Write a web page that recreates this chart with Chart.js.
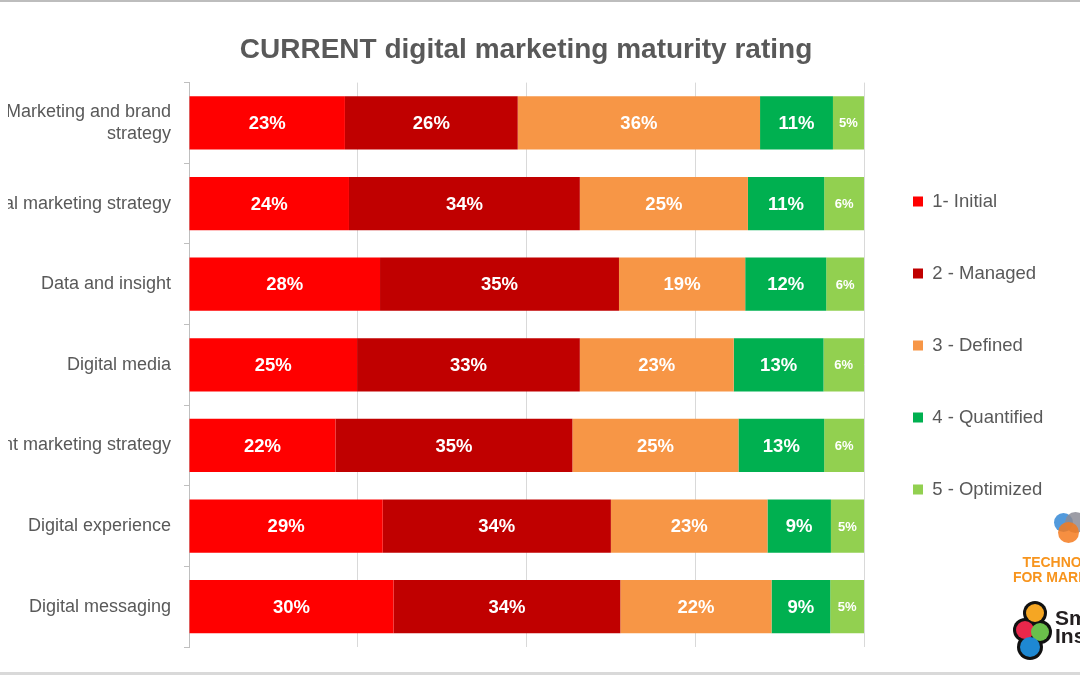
<!DOCTYPE html>
<html>
<head>
<meta charset="utf-8">
<script src="https://cdn.jsdelivr.net/npm/chart.js@4.4.1/dist/chart.umd.min.js"></script>
<style>
  html, body { margin: 0; padding: 0; background: #fff; }
  body { width: 1080px; height: 675px; overflow: hidden; position: relative; font-family: "Liberation Sans", Arial, sans-serif; }
  #wrap { position: absolute; left: -60px; top: 0; width: 1172px; height: 675px; }
  .topline { position: absolute; left: 0; top: 0; width: 1080px; height: 2px; background: #bdbdbd; }
  .bottomline { position: absolute; left: 0; top: 672px; width: 1080px; height: 3px; background: #d9d9d9; }
  .dot { position: absolute; border-radius: 50%; }
  .tfm-text { position: absolute; left: 1002px; top: 555px; width: 140px; text-align: center; color: #f7941d; font-weight: bold; font-size: 14px; line-height: 15px; }
  .si-text { position: absolute; left: 1055px; top: 609px; color: #231f20; font-weight: bold; font-size: 21px; line-height: 18px; }
</style>
</head>
<body>
<div id="wrap"><canvas id="myGraph"></canvas></div>
<div class="topline"></div>
<div class="bottomline"></div>

<!-- logos, bottom right -->
<div class="dot" style="left:1054px;top:513px;width:19px;height:19px;background:#3f8fd8;opacity:0.9"></div>
<div class="dot" style="left:1065px;top:512px;width:21px;height:21px;background:#8c8c96;opacity:0.85"></div>
<div class="dot" style="left:1058px;top:522px;width:21px;height:21px;background:#f47b20;opacity:0.85"></div>
<div class="tfm-text">TECHNOLOGY<br>FOR MARKETING</div>

<div class="dot" style="left:1023px;top:601px;width:24px;height:24px;background:#111"></div>
<div class="dot" style="left:1013px;top:618px;width:24px;height:24px;background:#111"></div>
<div class="dot" style="left:1028px;top:620px;width:24px;height:24px;background:#111"></div>
<div class="dot" style="left:1017px;top:634px;width:26px;height:26px;background:#111"></div>
<div class="dot" style="left:1026px;top:604px;width:18px;height:18px;background:#f5a623"></div>
<div class="dot" style="left:1016px;top:621px;width:18px;height:18px;background:#e8274b"></div>
<div class="dot" style="left:1031px;top:623px;width:18px;height:18px;background:#6abf4b"></div>
<div class="dot" style="left:1020px;top:637px;width:20px;height:20px;background:#1e88d3"></div>
<div class="si-text">Smart<br>Insights</div>

<script>
var categories = [['Marketing and brand', 'strategy'], 'Digital marketing strategy', 'Data and insight',
    'Digital media', 'Content marketing strategy', 'Digital experience', 'Digital messaging'];
var seriesNames = ['1- Initial', '2 - Managed', '3 - Defined', '4 - Quantified', '5 - Optimized'];
var seriesColors = ['#ff0000', '#c00000', '#f79646', '#00b050', '#92d050'];

// shares in % (labels are these rounded)
var initial    = [23.1, 23.7, 28.3, 24.9, 21.7, 28.7, 30.3];
var managed    = [25.6, 34.2, 35.4, 33.0, 35.1, 33.8, 33.6];
var defined    = [35.9, 24.9, 18.7, 22.8, 24.6, 23.2, 22.4];
var quantified = [10.8, 11.3, 12.0, 13.3, 12.7, 9.4, 8.7];
var optimized  = [4.6, 5.9, 5.6, 6.0, 5.9, 4.9, 5.0];

var seriesValues = [initial, managed, defined, quantified, optimized];

var fontFamily = '"Liberation Sans", Arial, Helvetica, sans-serif';
Chart.defaults.font.family = fontFamily;
Chart.defaults.color = '#595959';

// white % labels in the middle of each segment
var barLabels = {
    id: 'barLabels',
    afterDatasetsDraw: function (chart) {
        var ctx = chart.ctx;
        ctx.save();
        ctx.fillStyle = '#ffffff';
        ctx.textAlign = 'center';
        ctx.textBaseline = 'middle';
        chart.data.datasets.forEach(function (ds, i) {
            var meta = chart.getDatasetMeta(i);
            ctx.font = (i === 4 ? 'bold 13px ' : 'bold 18.5px ') + fontFamily;
            meta.data.forEach(function (bar, j) {
                ctx.fillText(Math.round(ds.data[j]) + '%', (bar.x + bar.base) / 2, bar.y + 1);
            });
        });
        ctx.restore();
    }
};

// nudge the legend column to where the original sits
var legendPlace = {
    id: 'legendPlace',
    afterLayout: function (chart) {
        var lg = chart.legend;
        lg.left = chart.chartArea.right - 4.5;
        lg.top = 1;
        lg.bottom = 690;
        lg.height = 689;
    }
};

var ctx = document.getElementById('myGraph');
var myGraph = new Chart(ctx, {
    type: 'bar',
    data: {
        labels: categories,
        datasets: seriesNames.map(function (name, i) {
            return {
                label: name,
                data: seriesValues[i],
                backgroundColor: seriesColors[i],
                borderWidth: 0,
                barPercentage: 0.66,
                categoryPercentage: 1.0
            };
        })
    },
    options: {
        indexAxis: 'y',
        responsive: true,
        maintainAspectRatio: false,
        animation: false,
        layout: {
            padding: { top: 0, right: 68, bottom: 28, left: 68 }
        },
        plugins: {
            title: {
                display: true,
                text: 'CURRENT digital marketing maturity rating',
                color: '#595959',
                font: { size: 28, weight: 'bold' },
                padding: { top: 33, bottom: 16 }
            },
            legend: {
                position: 'right',
                maxWidth: 180,
                labels: {
                    boxWidth: 10,
                    boxHeight: 10,
                    padding: 53.5,
                    color: '#595959',
                    font: { size: 18.5 }
                }
            },
            tooltip: { enabled: false }
        },
        scales: {
            x: {
                stacked: true,
                min: 0,
                max: 100,
                ticks: { display: false, stepSize: 25 },
                grid: { color: '#d9d9d9', drawTicks: false },
                border: { display: false },
                afterFit: function (scale) {
                    scale.height = 0;
                }
            },
            y: {
                stacked: true,
                grid: { offset: true, drawOnChartArea: false, tickLength: 5, color: '#bfbfbf' },
                border: { color: '#bfbfbf' },
                ticks: { color: '#595959', padding: 13, font: { size: 18, lineHeight: 1.22 } },
                afterFit: function (scale) {
                    scale.width = 181;
                    // the two-line first label would otherwise push the plot bottom up
                    scale.paddingTop = 0;
                    scale.paddingBottom = 0;
                }
            }
        }
    },
    plugins: [barLabels, legendPlace]
});
</script>
</body>
</html>
